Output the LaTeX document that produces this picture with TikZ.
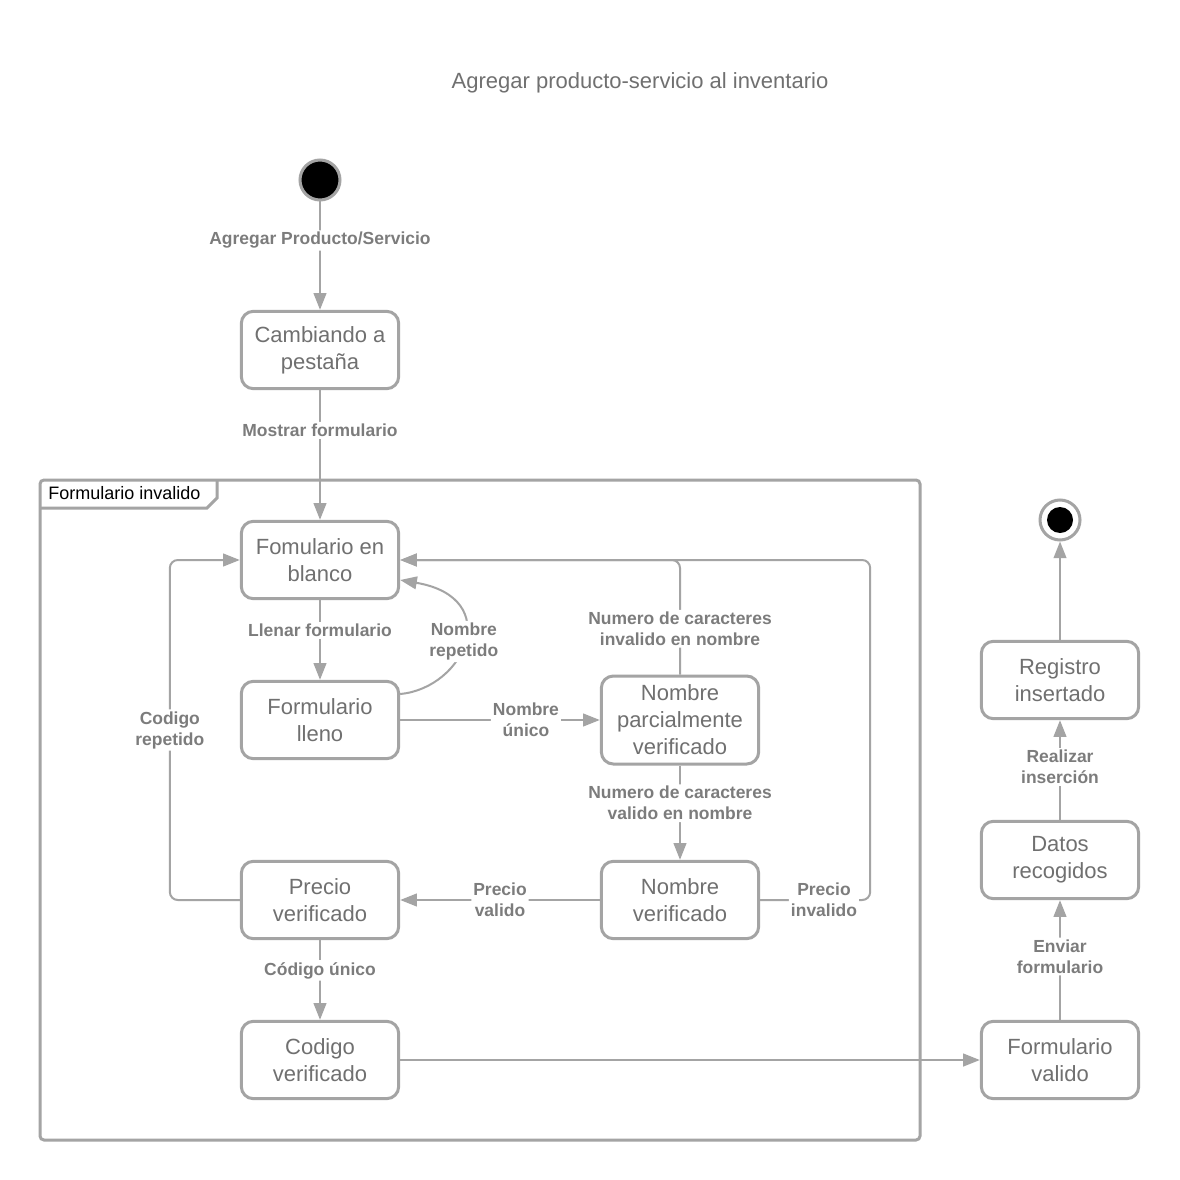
\documentclass[tikz,border=0pt]{standalone}
\usepackage{fontspec}
\setmainfont{Liberation Sans}
\usetikzlibrary{arrows.meta}
\definecolor{ln}{HTML}{A4A4A4}
\definecolor{tx}{HTML}{707070}
\definecolor{lb}{HTML}{7C7C7C}
\tikzset{
  state/.style={draw=ln, line width=2.25pt, rounded corners=9pt, fill=white,
    minimum width=118pt, minimum height=58pt, align=center, text=tx,
    font=\fontsize{16.5}{20.25}\selectfont, inner sep=2pt},
  edge/.style={draw=ln, line width=1.5pt, rounded corners=6pt,
    -{Triangle[length=12.5pt,width=9.5pt]}},
  lbl/.style={fill=white, text=lb, align=center, inner sep=1.5pt,
    font=\fontsize{13.1}{15.75}\selectfont\bfseries},
}
\begin{document}
\begin{tikzpicture}[x=0.75pt,y=-0.75pt]
\useasboundingbox (0,0) rectangle (1180,1180);
\fill[white] (0,0) rectangle (1180,1180);

\node[text=tx, font=\fontsize{16.5}{20}\selectfont] (title) at (640,83) {Agregar producto-servicio al inventario};

% frame
\draw[draw=ln, line width=2.25pt, rounded corners=3pt] (40,480) rectangle (920,1140);
\draw[draw=ln, line width=2.25pt] (40,508) -- (207,508) -- (217,498) -- (217,480);
\node[anchor=west, text=black, font=\fontsize{13.5}{16}\selectfont, inner sep=0pt] (ftitle) at (48,493) {Formulario invalido};

% initial & final
\node[circle, draw=ln, fill=black, line width=2.25pt, minimum size=30pt, inner sep=0pt] (init) at (320,180) {};
\node[circle, draw=ln, fill=white, line width=2.25pt, minimum size=30pt, inner sep=0pt] (fin) at (1060,520) {};
\node[circle, fill=black, minimum size=19.5pt, inner sep=0pt] (finin) at (1060,520) {};

% states
\node[state] (camb) at (320,350) {Cambiando a\\pestaña};
\node[state] (blanco) at (320,560) {Fomulario en\\blanco};
\node[state] (lleno) at (320,720) {Formulario\\lleno};
\node[state, minimum height=66pt] (npv) at (680,720) {Nombre\\parcialmente\\verificado};
\node[state] (nv) at (680,900) {Nombre\\verificado};
\node[state] (pv) at (320,900) {Precio\\verificado};
\node[state] (cv) at (320,1060) {Codigo\\verificado};
\node[state] (fv) at (1060,1060) {Formulario\\valido};
\node[state] (dr) at (1060,860) {Datos\\recogidos};
\node[state] (ri) at (1060,680) {Registro\\insertado};

% edges
\draw[edge] (init) -- node[lbl,pos=0.36] {Agregar Producto/Servicio} (camb);
\draw[edge] (camb) -- node[lbl,pos=0.31] {Mostrar formulario} (blanco);
\draw[edge] (blanco) -- node[lbl,pos=0.38] {Llenar formulario} (lleno);
\draw[edge] (lleno.east |- 0,694) .. controls (465,688) and (505,598) .. node[lbl,pos=0.5] {Nombre\\repetido} (blanco.east |- 0,580);
\draw[edge] (lleno) -- node[lbl,pos=0.63] {Nombre\\único} (npv);
\draw[edge] (npv) |- node[lbl,pos=0.2] {Numero de caracteres\\invalido en nombre} (blanco);
\draw[edge] (npv) -- node[lbl,pos=0.40] {Numero de caracteres\\valido en nombre} (nv);
\draw[edge] (nv) -- node[lbl,pos=0.5] {Precio\\valido} (pv);
\draw[edge] (nv.east) -- node[lbl,pos=0.58] {Precio\\invalido} ++(110,0) |- (blanco.east);
\draw[edge] (pv.west) -- ++(-70,0) |- node[lbl,pos=0.25] {Codigo\\repetido} (blanco.west);
\draw[edge] (pv) -- node[lbl,pos=0.38] {Código único} (cv);
\draw[edge] (cv) -- (fv);
\draw[edge] (fv) -- node[lbl,pos=0.53] {Enviar\\formulario} (dr);
\draw[edge] (dr) -- node[lbl,pos=0.53] {Realizar\\inserción} (ri);
\draw[edge] (ri) -- (fin);
\end{tikzpicture}
\end{document}
